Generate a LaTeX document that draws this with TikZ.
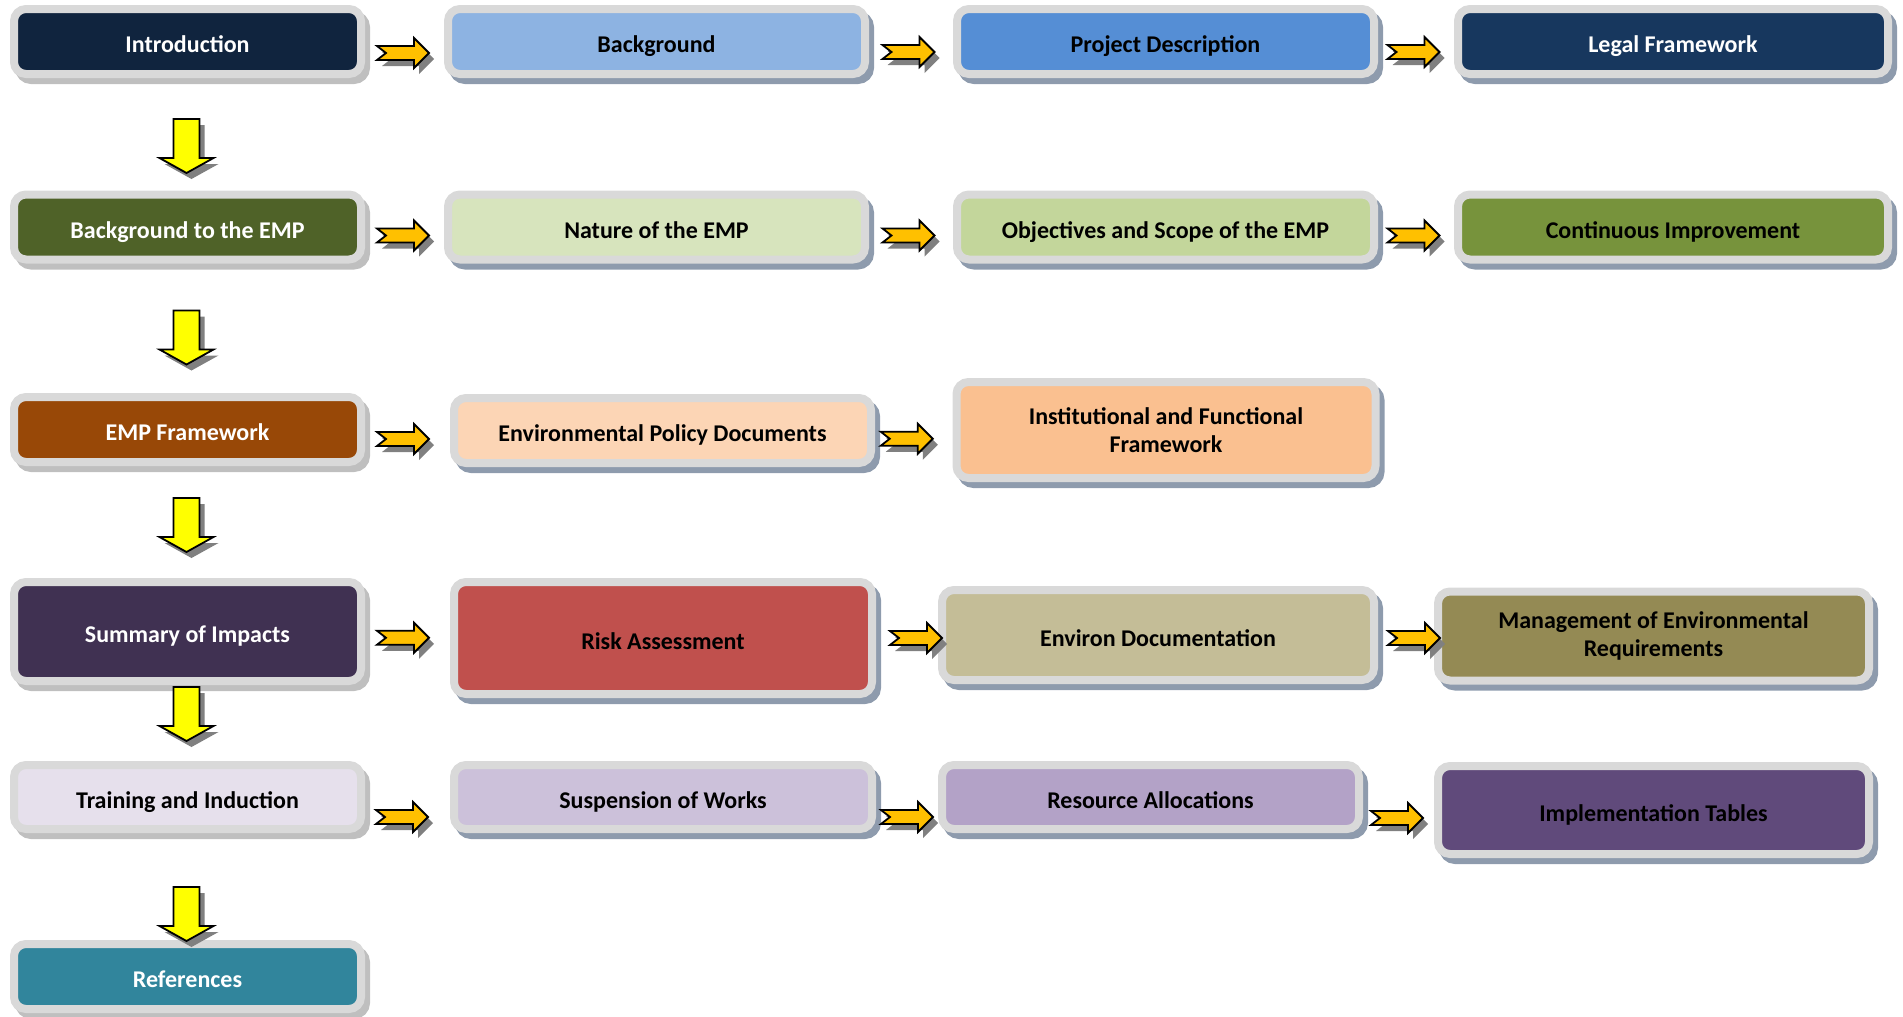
\documentclass[tikz,border=0pt]{standalone}
\usepackage{fontspec}
\setmainfont{Carlito}
\usetikzlibrary{calc,shadows}
\definecolor{framegrey}{HTML}{D9D9D9}
\definecolor{shadowgrey}{HTML}{BFBFBF}
\definecolor{shadowblue}{HTML}{8E9BAD}
\definecolor{arrowshade}{HTML}{808080}
\definecolor{orangearrow}{HTML}{FFC000}
\definecolor{yellowarrow}{HTML}{FFFF00}
\definecolor{introcol}{HTML}{10243E}
\definecolor{bgcol}{HTML}{8DB3E2}
\definecolor{projcol}{HTML}{558ED5}
\definecolor{legalcol}{HTML}{17375E}
\definecolor{bgempcol}{HTML}{4F6228}
\definecolor{naturecol}{HTML}{D7E4BD}
\definecolor{objcol}{HTML}{C3D69B}
\definecolor{contcol}{HTML}{77933C}
\definecolor{empfwcol}{HTML}{984807}
\definecolor{policycol}{HTML}{FCD5B5}
\definecolor{instcol}{HTML}{FAC090}
\definecolor{summcol}{HTML}{403152}
\definecolor{riskcol}{HTML}{C0504D}
\definecolor{envdoccol}{HTML}{C4BD97}
\definecolor{mgmtcol}{HTML}{948A54}
\definecolor{traincol}{HTML}{E6E0EC}
\definecolor{suspcol}{HTML}{CCC1DA}
\definecolor{rescol}{HTML}{B3A2C7}
\definecolor{implcol}{HTML}{604A7B}
\definecolor{refcol}{HTML}{31859C}
\tikzset{
  card/.style={draw=framegrey, line width=4pt, rounded corners=6pt,
    inner sep=0pt, align=center, text=black,
    text height=11pt, text depth=0pt,
    font=\fontsize{12pt}{14.2pt}\selectfont\bfseries,
    drop shadow={shadow xshift=2.5pt, shadow yshift=-3pt,
      opacity=1, fill=#1, draw=#1, line width=4pt}},
  card/.default=shadowblue,
  twolines/.style={text height=, text depth=},
  rarrow/.pic={
    \fill[arrowshade, shift={(5,6)}]
      (-26,-7) -- (11,-7) -- (11,-15) -- (26,0) -- (11,15) -- (11,7) -- (-26,7) -- (-17,0) -- cycle;
    \filldraw[fill=orangearrow, draw=black, line width=.9pt]
      (-26,-7) -- (11,-7) -- (11,-15) -- (26,0) -- (11,15) -- (11,7) -- (-26,7) -- (-17,0) -- cycle;
  },
  darrow/.pic={
    \fill[arrowshade, shift={(5,6)}]
      (-13,-27) -- (13,-27) -- (13,12) -- (27,12) -- (0,27) -- (-27,12) -- (-13,12) -- cycle;
    \filldraw[fill=yellowarrow, draw=black, line width=.9pt]
      (-13,-27) -- (13,-27) -- (13,12) -- (27,12) -- (0,27) -- (-27,12) -- (-13,12) -- cycle;
  },
}

\begin{document}
\begin{tikzpicture}[x=0.5pt,y=-0.5pt]
\useasboundingbox (0,0) rectangle (1903,1017);
% first row
\node[card=shadowgrey, fill=introcol, text=white, minimum width=173.5pt, minimum height=32.5pt]
  (intro) at (187.5,41.5) {Introduction};
\node[card, fill=bgcol, minimum width=208.5pt, minimum height=32.5pt]
  (bg) at (656.5,41.5) {Background};
\node[card, fill=projcol, minimum width=208.5pt, minimum height=32.5pt]
  (proj) at (1165.5,41.5) {Project Description};
\node[card, fill=legalcol, text=white, minimum width=215pt, minimum height=32.5pt]
  (legal) at (1673,41.5) {Legal Framework};
% second row
\node[card=shadowgrey, fill=bgempcol, text=white, minimum width=173.5pt, minimum height=32.5pt]
  (bgemp) at (187.5,227) {Background to the EMP};
\node[card, fill=naturecol, minimum width=208.5pt, minimum height=32.5pt]
  (nature) at (656.5,227) {Nature of the EMP};
\node[card, fill=objcol, minimum width=208.5pt, minimum height=32.5pt]
  (obj) at (1165.5,227) {Objectives and Scope of the EMP};
\node[card, fill=contcol, minimum width=215pt, minimum height=32.5pt]
  (cont) at (1673,227) {Continuous Improvement};
% third row
\node[card=shadowgrey, fill=empfwcol, text=white, minimum width=173.5pt, minimum height=32.5pt]
  (empfw) at (187.5,429.5) {EMP Framework};
\node[card, fill=policycol, minimum width=208.5pt, minimum height=32.5pt]
  (policy) at (662.5,430.5) {Environmental Policy Documents};
\node[card, twolines, fill=instcol, minimum width=209.5pt, minimum height=48pt]
  (inst) at (1166,430) {Institutional and Functional\\Framework};
% fourth row
\node[card=shadowgrey, fill=summcol, text=white, minimum width=173.5pt, minimum height=49.5pt]
  (summ) at (187.5,631.5) {Summary of Impacts};
\node[card, fill=riskcol, minimum width=209pt, minimum height=56pt]
  (risk) at (663,638) {Risk Assessment};
\node[card, fill=envdoccol, minimum width=216pt, minimum height=45pt]
  (envdoc) at (1158,635) {Environ Documentation};
\node[card, twolines, fill=mgmtcol, minimum width=215.5pt, minimum height=44.5pt]
  (mgmt) at (1653.5,636) {Management of Environmental\\Requirements};
% fifth row
\node[card=shadowgrey, fill=traincol, minimum width=173.5pt, minimum height=32pt]
  (train) at (187.5,797) {Training and Induction};
\node[card, fill=suspcol, minimum width=209pt, minimum height=32pt]
  (susp) at (663,797) {Suspension of Works};
\node[card, fill=rescol, minimum width=208.5pt, minimum height=32pt]
  (res) at (1150.5,797) {Resource Allocations};
\node[card, fill=implcol, minimum width=215.5pt, minimum height=44pt]
  (impl) at (1653.5,810) {Implementation Tables};
% last row
\node[card=shadowgrey, fill=refcol, text=white, minimum width=173.5pt, minimum height=32.5pt]
  (refs) at (187.5,976.5) {References};
% arrows along the rows
\pic at ($(intro.east)!.5!(bg.west)+(-1.5,11.5)$) {rarrow};
\pic at ($(bg.east)!.5!(proj.west)+(-2.5,10.5)$) {rarrow};
\pic at ($(proj.east)!.5!(legal.west)+(-2.5,10.5)$) {rarrow};
\pic at ($(bgemp.east)!.5!(nature.west)+(-1.5,8.5)$) {rarrow};
\pic at ($(nature.east)!.5!(obj.west)+(-2.5,8.5)$) {rarrow};
\pic at ($(obj.east)!.5!(cont.west)+(-2.5,8.5)$) {rarrow};
\pic at ($(empfw.east)!.5!(policy.west)+(-4.5,9)$) {rarrow};
\pic at ($(policy.east)!.5!(inst.west)+(-7,8.5)$) {rarrow};
\pic at ($(summ.east)!.5!(risk.west)+(-4.5,3)$) {rarrow};
\pic at ($(risk.east)!.5!(envdoc.west)+(9,1.5)$) {rarrow};
\pic at ($(envdoc.east)!.5!(mgmt.west)+(8,2.5)$) {rarrow};
\pic at ($(train.east)!.5!(susp.west)+(-5.5,20)$) {rarrow};
\pic at ($(susp.east)!.5!(res.west)+(0,20)$) {rarrow};
\pic at ($(res.east)!.5!(impl.west)+(-1.5,14.5)$) {rarrow};
% arrows down the first column
\pic at ($(intro.south)!.5!(bgemp.north)+(-1,11.75)$) {darrow};
\pic at ($(bgemp.south)!.5!(empfw.north)+(-1,9.25)$) {darrow};
\pic at ($(empfw.south)!.5!(summ.north)+(-1,3)$) {darrow};
\pic at ($(summ.south)!.5!(train.north)+(-1,-9)$) {darrow};
\pic at ($(train.south)!.5!(refs.north)+(-1,27.5)$) {darrow};
\end{tikzpicture}
\end{document}
